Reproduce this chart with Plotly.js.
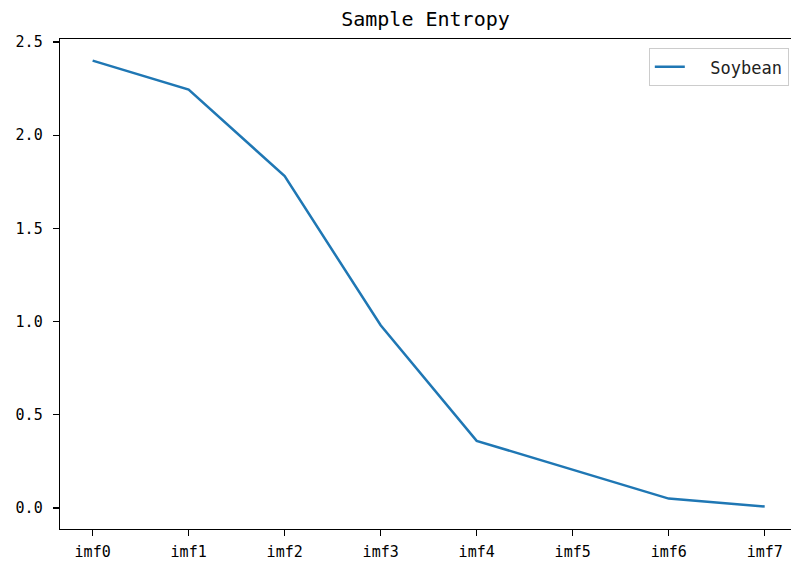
<!DOCTYPE html>
<html>
<head>
<meta charset="utf-8">
<script src="https://cdn.plot.ly/plotly-3.0.1.min.js"></script>
<style>html,body{margin:0;padding:0;background:#fff;}#chart{width:791px;height:562px;}</style>
</head>
<body>
<div id="chart"></div>
<script>
const categories = ["imf0", "imf1", "imf2", "imf3", "imf4", "imf5", "imf6", "imf7"];
const soybean = [2.40, 2.245, 1.78, 0.98, 0.36, 0.205, 0.05, 0.008];
const yTicks = [0, 0.5, 1.0, 1.5, 2.0, 2.5];
const seriesName = "\u00a0\u00a0Soybean";

const FONT = "DejaVu Sans Mono, monospace";

const trace = {
  x: categories,
  y: soybean,
  type: "scatter",
  mode: "lines",
  name: seriesName,
  line: {color: "#1f77b4", width: 2.5}
};

const layout = {
  width: 791,
  height: 562,
  margin: {l: 60, r: 0, t: 39, b: 33},
  paper_bgcolor: "#fff",
  plot_bgcolor: "#fff",
  font: {family: FONT, color: "#000", size: 15},
  title: {
    text: "Sample Entropy",
    font: {family: FONT, size: 20, color: "#000"},
    x: 0.5, xref: "paper", xanchor: "center",
    y: 1, yref: "container", yanchor: "top", pad: {t: 12}
  },
  showlegend: true,
  legend: {
    x: 0.997, xanchor: "right",
    y: 0.981, yanchor: "top",
    bordercolor: "#cccccc", borderwidth: 1,
    bgcolor: "rgba(255,255,255,0.8)",
    font: {family: FONT, size: 17, color: "#222"}
  },
  xaxis: {
    type: "category",
    range: [-0.34, 7.274],
    showgrid: false, zeroline: false,
    showline: true, linecolor: "#000", linewidth: 1.3, mirror: true,
    ticks: "outside", ticklen: 6, tickwidth: 1.3, tickcolor: "#000",
    ticklabelstandoff: 3,
    tickfont: {family: FONT, size: 15, color: "#000"}
  },
  yaxis: {
    range: [-0.113, 2.516],
    tickvals: yTicks,
    ticktext: yTicks.map(v => v.toFixed(1)),
    showgrid: false, zeroline: false,
    showline: true, linecolor: "#000", linewidth: 1.3,
    ticks: "outside", ticklen: 6, tickwidth: 1.3, tickcolor: "#000",
    ticklabelstandoff: 7,
    tickfont: {family: FONT, size: 15, color: "#000"}
  }
};

Plotly.newPlot("chart", [trace], layout, {displayModeBar: false, staticPlot: true});
</script>
</body>
</html>
